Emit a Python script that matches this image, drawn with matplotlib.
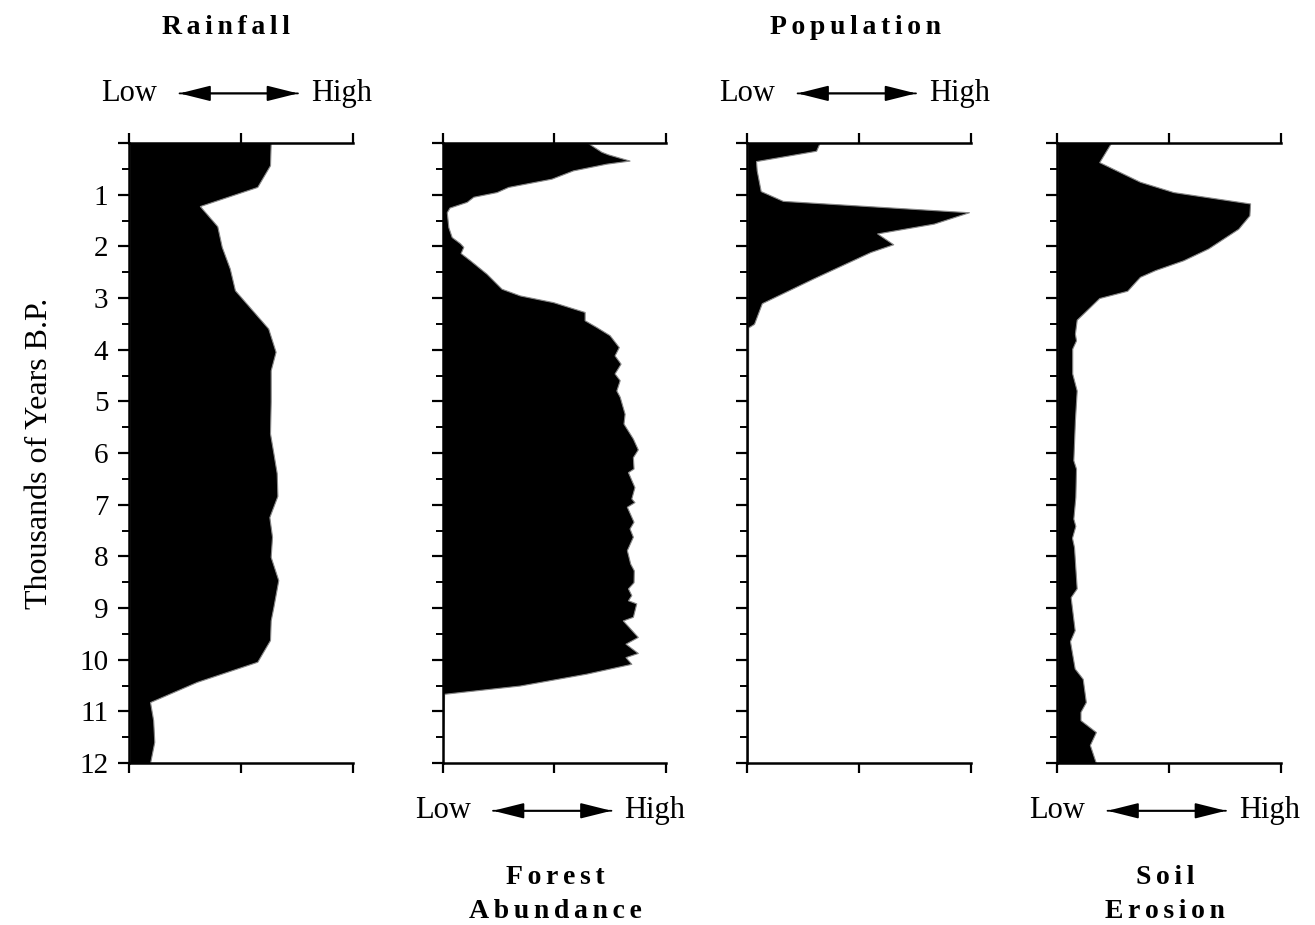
import numpy as np
import matplotlib.pyplot as plt

plt.rcParams['font.family'] = ['Liberation Serif', 'DejaVu Serif']

# depth in thousands of years B.P., value in % of Low..High
rain_depth = [0, 0.43, 0.85, 1.22, 1.61, 2.01, 2.43, 2.85, 3.59, 4.04, 4.4, 5.0, 5.62, 6.0, 6.39, 6.83,
              7.24, 7.62, 8.01, 8.46, 8.98, 9.24, 9.62, 10.04, 10.43, 10.82, 11.17, 11.59, 12.0]
rain_val = [63.3, 63, 57.3, 31.6, 39.4, 41.4, 45, 47.3, 62.2, 65.5, 63.3, 63.3, 63, 64.5, 66, 66.3,
            62.7, 63.9, 63.3, 66.7, 64.5, 63.3, 63, 57.3, 30.2, 9.3, 10.7, 11.2, 9.3]

forest_depth = [0, 0.17, 0.22, 0.34, 0.4, 0.53, 0.69, 0.85, 0.95, 1.04, 1.14, 1.25, 1.34, 1.63, 1.82,
                1.94, 2.01, 2.13, 2.27, 2.53, 2.82, 2.95, 3.08, 3.27, 3.43, 3.56, 3.72, 3.95, 4.11,
                4.27, 4.46, 4.59, 4.79, 4.91, 5.24, 5.43, 5.72, 5.93, 6.08, 6.3, 6.37, 6.66, 6.88,
                6.95, 7.04, 7.33, 7.46, 7.62, 7.88, 8.14, 8.27, 8.5, 8.62, 8.75, 8.85, 8.91, 9.17,
                9.24, 9.56, 9.69, 9.87, 9.95, 10.08, 10.27, 10.5, 10.66, 12.0]
forest_val = [65, 71, 74, 83.6, 73.2, 58.3, 48.7, 29.3, 24.1, 13.7, 10.7, 3, 1.8, 2.5, 4,
              7.7, 9.2, 8, 12.2, 19.6, 26.3, 34.5, 49.4, 63.5, 63.5, 68.7, 74.7, 78.8, 76.9,
              79.6, 76.9, 79.2, 77.7, 79.2, 81.4, 80.9, 85.1, 87.3, 85.1, 85.4, 82.9, 85.8, 84.4,
              85.8, 82.4, 85.4, 83.6, 85.1, 82.4, 83.9, 85.5, 85.4, 82.9, 84.4, 82.9, 86.6, 85.1,
              80.6, 87.3, 81.8, 87.3, 81.8, 84.4, 64.3, 34.5, 0.6, 0]

pop_depth = [0, 0.15, 0.35, 0.53, 0.93, 1.12, 1.34, 1.56, 1.75, 1.96, 2.11, 2.62, 3.1, 3.5, 3.57, 12.0]
pop_val = [32.3, 30.8, 3.9, 4.2, 6, 15.9, 99.2, 83.5, 58.1, 65.3, 55.1, 29.6, 6.5, 3, 0.4, 0]

soil_depth = [0, 0.37, 0.75, 0.95, 1.17, 1.4, 1.66, 2.04, 2.27, 2.46, 2.59, 2.86, 3.0, 3.42, 3.69,
              3.82, 3.98, 4.46, 4.79, 5.37, 6.14, 6.3, 6.85, 7.27, 7.41, 7.64, 7.82, 8.62, 8.79,
              9.43, 9.64, 10.17, 10.37, 10.82, 11.01, 11.17, 11.4, 11.65, 12.0]
soil_val = [24, 18.8, 37, 52, 86.3, 86, 81, 67.6, 56.4, 43.8, 37, 31.3, 18.8, 8.7, 7.9,
            8.4, 6.7, 6.7, 8.7, 7.9, 7.2, 8.4, 8.1, 7.2, 8.1, 6.6, 7.5, 8.7, 6,
            7.8, 5.7, 7.8, 11.4, 12.8, 10.4, 10.4, 17.3, 14.6, 17.3]

year_ticks = list(range(0, 13))
year_labels = [''] + [str(i) for i in range(1, 13)]

fig = plt.figure(figsize=(13.15, 9.25), dpi=100)

lefts = [0.0983, 0.3367, 0.5683, 0.8040]
series = [(rain_depth, rain_val), (forest_depth, forest_val),
          (pop_depth, pop_val), (soil_depth, soil_val)]
axes = []
for i, (d, v) in enumerate(series):
    ax = fig.add_axes([lefts[i], 0.1751, 0.1699, 0.6703])
    ax.fill_betweenx(d, 0, v, facecolor='black', edgecolor='#888888', linewidth=0.8)
    ax.set_xlim(0, 100)
    ax.set_ylim(12, 0)
    ax.spines['right'].set_visible(False)
    for s in ['left', 'top', 'bottom']:
        ax.spines[s].set_linewidth(1.8)
    ax.set_xticks([0, 50, 100])
    ax.set_xticklabels([])
    ax.set_yticks(year_ticks)
    ax.set_yticks(np.arange(0.5, 12, 1.0), minor=True)
    ax.tick_params(axis='x', top=True, bottom=True, direction='out', length=7, width=1.6)
    ax.tick_params(axis='y', which='major', direction='out', length=8, width=1.6, pad=7)
    ax.tick_params(axis='y', which='minor', direction='out', length=5, width=1.4)
    if i == 0:
        ax.set_yticklabels(year_labels, fontsize=21)
        ax.set_ylabel('Thousands of Years B.P.', fontsize=23, labelpad=18)
    else:
        ax.set_yticklabels([])
    axes.append(ax)


def low_high(ax, y):
    ax.text(0.0, y, 'Low', transform=ax.transAxes, ha='center', va='center', fontsize=22)
    ax.text(0.95, y, 'High', transform=ax.transAxes, ha='center', va='center', fontsize=22)
    ax.annotate('', xy=(0.755, y), xytext=(0.225, y), xycoords='axes fraction',
                arrowprops=dict(arrowstyle='-|>,head_length=1.2,head_width=0.3',
                                color='black', lw=1.3, mutation_scale=16,
                                shrinkA=0, shrinkB=0))
    ax.annotate('', xy=(0.225, y), xytext=(0.755, y), xycoords='axes fraction',
                arrowprops=dict(arrowstyle='-|>,head_length=1.2,head_width=0.3',
                                color='black', lw=1.3, mutation_scale=16,
                                shrinkA=0, shrinkB=0))


low_high(axes[0], 1.08)
low_high(axes[2], 1.08)
low_high(axes[1], -0.077)
low_high(axes[3], -0.077)


def spaced(s):
    return '\u2006'.join(s)


title_kw = dict(ha='center', va='center', fontsize=20, fontweight='bold')
fig.text(226 / 1315, 1 - 27 / 925, spaced('Rainfall'), **title_kw)
fig.text(855 / 1315, 1 - 27 / 925, spaced('Population'), **title_kw)
fig.text(555 / 1315, 1 - 877 / 925, spaced('Forest'), **title_kw)
fig.text(555 / 1315, 1 - 911 / 925, spaced('Abundance'), **title_kw)
fig.text(1165 / 1315, 1 - 877 / 925, spaced('Soil'), **title_kw)
fig.text(1165 / 1315, 1 - 911 / 925, spaced('Erosion'), **title_kw)

fig.savefig('out.png', dpi=100)
